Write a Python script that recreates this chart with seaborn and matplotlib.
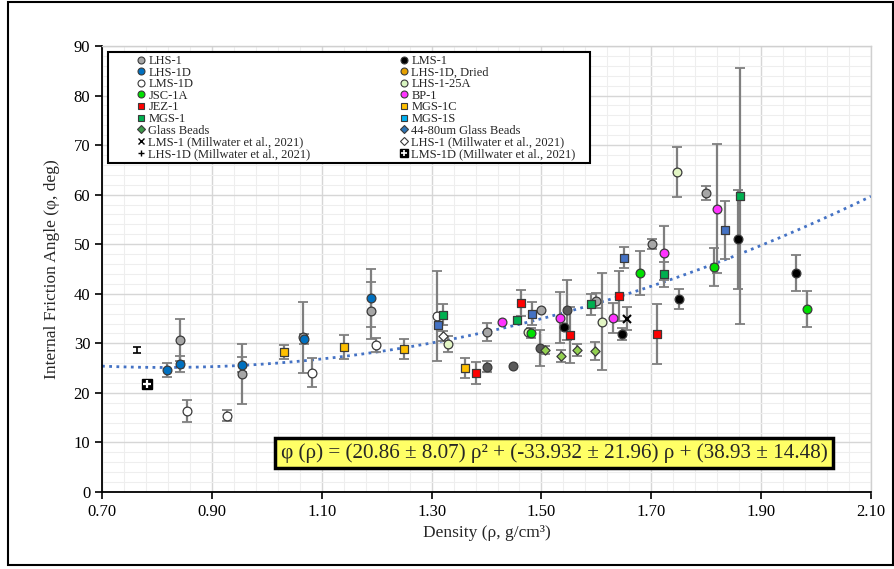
import numpy as np
import pandas as pd
import matplotlib
matplotlib.use("Agg")
import matplotlib.pyplot as plt
import seaborn as sns
from matplotlib.lines import Line2D
from matplotlib.patches import Rectangle
from matplotlib.ticker import FixedLocator, FormatStrFormatter

# ---- data (density g/cm3, friction angle deg, +/- error) ----
lhs1_x = [0.842, 0.954, 1.066, 1.190, 1.400, 1.500, 1.600, 1.701, 1.800]
lhs1_y = [30.7, 23.8, 31.2, 36.6, 32.3, 36.8, 38.6, 50.1, 60.4]
lhs1_e = [4.2, 6.0, 7.2, 5.8, 1.8, 0.0, 1.5, 1.0, 1.4]

lms1_x = [1.541, 1.646, 1.751, 1.857, 1.963]
lms1_y = [33.2, 31.8, 38.9, 51.0, 44.2]
lms1_e = [0.0, 1.2, 2.0, 10.0, 3.6]

dark_x = [1.400, 1.449, 1.497, 1.546]
dark_y = [25.3, 25.4, 29.1, 36.7]
dark_e = [1.1, 0.0, 3.6, 6.1]

lhs1d_x = [0.818, 0.842, 0.954, 1.068, 1.190]
lhs1d_y = [24.6, 25.8, 25.7, 30.8, 39.1]
lhs1d_e = [1.35, 1.6, 1.5, 1.0, 5.9]

lms1d_x = [0.854, 0.927, 1.082, 1.198, 1.309]
lms1d_y = [16.4, 15.4, 24.1, 29.6, 35.5]
lms1d_e = [2.2, 1.1, 3.0, 1.4, 9.0]

lhs125a_x = [1.329, 1.476, 1.610, 1.746]
lhs125a_y = [29.9, 32.2, 34.4, 64.6]
lhs125a_e = [1.6, 0.0, 9.7, 5.1]

jsc1a_x = [1.481, 1.679, 1.815, 1.983]
jsc1a_y = [32.0, 44.2, 45.4, 37.0]
jsc1a_e = [1.0, 4.5, 3.8, 3.65]

bp1_x = [1.429, 1.534, 1.630, 1.724, 1.820]
bp1_y = [34.4, 35.2, 35.1, 48.2, 57.2]
bp1_e = [0.0, 5.1, 3.0, 5.5, 13.1]

jez1_x = [1.380, 1.462, 1.552, 1.642, 1.710]
jez1_y = [24.0, 38.1, 31.7, 39.6, 31.9]
jez1_e = [2.3, 2.6, 5.7, 5.0, 6.1]

mgs1c_x = [1.031, 1.141, 1.250, 1.360]
mgs1c_y = [28.2, 29.3, 28.85, 25.0]
mgs1c_e = [1.4, 2.4, 1.95, 2.0]

mgs1_x = [1.321, 1.455, 1.590, 1.723, 1.862]
mgs1_y = [35.8, 34.8, 37.9, 43.9, 59.7]
mgs1_e = [2.1, 0.0, 2.1, 2.5, 25.8]

mgs1s_x = [1.312, 1.482, 1.651, 1.834]
mgs1s_y = [33.7, 36.0, 47.3, 52.9]
mgs1s_e = [0.0, 2.4, 2.2, 5.9]

beads_x = [1.507, 1.536, 1.564, 1.598]
beads_y = [28.6, 27.4, 28.65, 28.5]
beads_e = [0.8, 1.25, 1.3, 1.8]

mw_lms1_x, mw_lms1_y, mw_lms1_e = [1.655], [35.0], [2.3]
mw_lhs1_x, mw_lhs1_y, mw_lhs1_e = [1.320], [31.5], [1.0]
mw_lhs1d_x, mw_lhs1d_y, mw_lhs1d_e = [0.763], [28.65], [0.7]
mw_lms1d_x, mw_lms1d_y, mw_lms1d_e = [0.782], [21.8], [0.0]

x_ticks = [0.70, 0.90, 1.10, 1.30, 1.50, 1.70, 1.90, 2.10]

# quadratic fit given on the chart
fit_coef = [20.86, -33.932, 38.93]
eq_text = "φ (ρ) = (20.86 ± 8.07) ρ² + (-33.932 ± 21.96) ρ + (38.93 ± 14.48)"

# ---- style ----
sns.set_style("whitegrid")
plt.rcParams['font.family'] = ['Liberation Serif', 'DejaVu Serif']

fig = plt.figure(figsize=(8.94, 5.69), dpi=100)
ax = fig.add_axes([0.1141, 0.1353, 0.8602, 0.7839])

ax.set_xlim(0.70, 2.10)
ax.set_ylim(0, 90)
ax.xaxis.set_major_locator(FixedLocator(x_ticks))
ax.xaxis.set_minor_locator(FixedLocator(np.arange(0.70, 2.1001, 0.04)))
ax.yaxis.set_major_locator(FixedLocator(np.arange(0, 91, 10)))
ax.yaxis.set_minor_locator(FixedLocator(np.arange(0, 91, 2)))
ax.xaxis.set_major_formatter(FormatStrFormatter('%.2f'))
ax.grid(which='major', color='#d6d6d6', lw=1.0)
ax.grid(which='minor', color='#eeeeee', lw=0.8)
ax.set_axisbelow(True)
ax.tick_params(which='major', direction='out', length=5, width=1.2, colors='black',
               labelsize=12, left=True, bottom=True)
ax.tick_params(which='minor', length=0)
for s in ['left', 'bottom']:
    ax.spines[s].set_color('black')
    ax.spines[s].set_linewidth(1.3)
for s in ['top', 'right']:
    ax.spines[s].set_color('#d0d0d0')
    ax.spines[s].set_linewidth(1.0)

ax.set_xlabel("Density (ρ, g/cm³)", fontsize=12.5, labelpad=4)
ax.set_ylabel("Internal Friction Angle (φ, deg)", fontsize=12.5, labelpad=10)

# trend line
rho = np.linspace(0.70, 2.10, 200)
fit_df = pd.DataFrame({'rho': rho, 'phi': np.polyval(fit_coef, rho)})
sns.lineplot(data=fit_df, x='rho', y='phi', ax=ax, color='#4472c4', lw=2.0,
             linestyle=(0, (1, 1.6)), zorder=2)

series = [
    # x, y, err, marker, face, size
    (lhs1_x, lhs1_y, lhs1_e, 'o', '#a6a6a6', 40),
    (lhs1d_x, lhs1d_y, lhs1d_e, 'o', '#0070c0', 40),
    (lms1d_x, lms1d_y, lms1d_e, 'o', 'white', 40),
    (dark_x, dark_y, dark_e, 'o', '#595959', 40),
    (mgs1c_x, mgs1c_y, mgs1c_e, 's', '#ffc000', 36),
    (mgs1s_x, mgs1s_y, mgs1s_e, 's', '#4472c4', 36),
    (mgs1_x, mgs1_y, mgs1_e, 's', '#00b050', 36),
    (jez1_x, jez1_y, jez1_e, 's', '#ff0000', 36),
    (lhs125a_x, lhs125a_y, lhs125a_e, 'o', '#e2f5c4', 40),
    (jsc1a_x, jsc1a_y, jsc1a_e, 'o', '#00e000', 40),
    (bp1_x, bp1_y, bp1_e, 'o', '#ff33ff', 40),
    (lms1_x, lms1_y, lms1_e, 'o', 'black', 40),
    (beads_x, beads_y, beads_e, 'D', '#92d050', 22),
    (mw_lhs1_x, mw_lhs1_y, mw_lhs1_e, 'D', 'white', 22),
]

for xs, ys, es, mk, fc, sz in series:
    d = pd.DataFrame({'x': xs, 'y': ys, 'e': es})
    de = d[d['e'] > 0]
    ax.errorbar(de['x'], de['y'], yerr=de['e'], fmt='none', ecolor='#7f7f7f',
                elinewidth=1.6, capsize=3.5, capthick=1.3, zorder=3)
    sns.scatterplot(data=d, x='x', y='y', ax=ax, marker=mk, color=fc, s=sz,
                    edgecolor='#3a3a3a', linewidth=0.9, zorder=4, legend=False)

# Millwater 2021 points
ax.errorbar(mw_lms1_x, mw_lms1_y, yerr=mw_lms1_e, fmt='none', ecolor='#7f7f7f',
            elinewidth=1.6, capsize=3.5, capthick=1.3, zorder=3)
ax.plot(mw_lms1_x, mw_lms1_y, 'x', color='black', ms=6, mew=1.5, zorder=5)
ax.errorbar(mw_lhs1d_x, mw_lhs1d_y, yerr=mw_lhs1d_e, fmt='none', ecolor='black',
            elinewidth=1.2, capsize=3.0, capthick=1.2, zorder=3)
ax.plot(mw_lms1d_x, mw_lms1d_y, 's', color='black', ms=7, zorder=5)
ax.plot(mw_lms1d_x, mw_lms1d_y, '+', color='white', ms=6, mew=1.6, zorder=6)

# equation box
ax.text(1.523, 7.9, eq_text, fontsize=15.2, ha='center', va='center', zorder=7,
        bbox=dict(boxstyle='square,pad=0.26', facecolor='#ffff66', edgecolor='black', lw=2.5))

# legend
ek = dict(markeredgecolor='#3a3a3a', markeredgewidth=0.8, linestyle='none')
handles = [
    Line2D([], [], marker='o', color='#a6a6a6', ms=5, **ek),
    Line2D([], [], marker='o', color='#0070c0', ms=5, **ek),
    Line2D([], [], marker='o', color='white', ms=5, **ek),
    Line2D([], [], marker='o', color='#00e000', ms=5, **ek),
    Line2D([], [], marker='s', color='#ff0000', ms=5, **ek),
    Line2D([], [], marker='s', color='#00b050', ms=5, **ek),
    Line2D([], [], marker='D', color='#3c9a4a', ms=4, **ek),
    Line2D([], [], marker='x', color='black', ms=5, mew=1.0, linestyle='none'),
    Line2D([], [], marker='+', color='black', ms=5, mew=1.0, linestyle='none'),
    Line2D([], [], marker='o', color='black', ms=5, **ek),
    Line2D([], [], marker='o', color='#e6a000', ms=5, **ek),
    Line2D([], [], marker='o', color='#d8f5c0', ms=5, **ek),
    Line2D([], [], marker='o', color='#ff33ff', ms=5, **ek),
    Line2D([], [], marker='s', color='#ffc000', ms=5, **ek),
    Line2D([], [], marker='s', color='#00b0f0', ms=5, **ek),
    Line2D([], [], marker='D', color='#2e75b6', ms=4, **ek),
    Line2D([], [], marker='D', color='white', ms=4, **ek),
    (Line2D([], [], marker='s', color='black', ms=6, linestyle='none'),
     Line2D([], [], marker='+', color='white', ms=5, mew=1.2, linestyle='none')),
]
labels = ["LHS-1", "LHS-1D", "LMS-1D", "JSC-1A", "JEZ-1", "MGS-1", "Glass Beads",
          "LMS-1 (Millwater et al., 2021)", "LHS-1D (Millwater et al., 2021)",
          "LMS-1", "LHS-1D, Dried", "LHS-1-25A", "BP-1", "MGS-1C", "MGS-1S",
          "44-80um Glass Beads", "LHS-1 (Millwater et al., 2021)",
          "LMS-1D (Millwater et al., 2021)"]
# legend frame
ax.add_patch(Rectangle((0.0078, 0.7377), 0.627, 0.2488, transform=ax.transAxes,
                       facecolor='white', edgecolor='black', lw=1.5, zorder=8))
leg = ax.legend(handles, labels, ncol=2, loc='upper left', bbox_to_anchor=(0.045, 0.98),
                frameon=False, fontsize=9, labelspacing=-0.03, handlelength=0.7,
                handletextpad=0.25, columnspacing=7.1, borderpad=0, borderaxespad=0)
leg.set_zorder(9)

# outer frame of the figure
fig.patches.append(Rectangle((8 / 894, 4 / 569), 885 / 894, 563 / 569, transform=fig.transFigure,
                             fill=False, edgecolor='black', lw=1.5))

fig.savefig("out.png", dpi=100)
